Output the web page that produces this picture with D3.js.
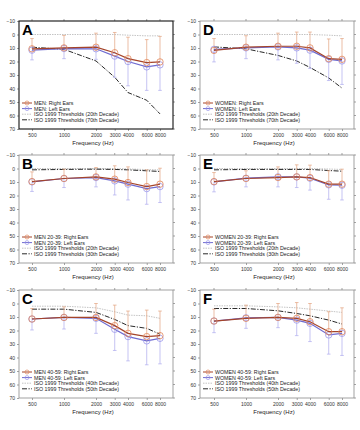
<!DOCTYPE html>
<html><head><meta charset="utf-8">
<script src="https://cdn.jsdelivr.net/npm/d3@7"></script>
<style>body{margin:0;background:#fff}svg{display:block}</style>
</head><body>
<svg id="c" width="360" height="430"></svg>
<script>
const freqs = [500, 1000, 2000, 3000, 4000, 6000, 8000];
const freqLabels = ["500", "1000", "2000", "3000", "4000", "6000", "8000"];
const yTicks = [-10, 0, 10, 20, 30, 40, 50, 60, 70];

// Panel A: MEN all
const aRight   = [10.6, 9.9, 9.4, 13.5, 17.9, 20.8, 20.3];
const aLeft    = [11.6, 10.4, 10.6, 16.0, 20.0, 24.0, 22.5];
const aRightHi = [3.0, 0.7, -1.0, -1.5, 2.0, 3.8, 1.4];
const aLeftLo  = [18.8, 17.9, 18.4, 31.7, 38.0, 41.4, 41.4];
const aIsoLow  = [0, 0, 0, 0, 0.5, 1, 1];
const aIsoHigh = [9.4, 11, 19.6, 31.7, 43, 48.7, 58.8];
// Panel B: MEN 20-39
const bRight   = [9.7, 7.4, 6.2, 7.9, 10.4, 13.4, 11.6];
const bLeft    = [9.9, 7.4, 6.7, 9.2, 11.6, 14.9, 13.4];
const bRightHi = [2.5, 0.5, -0.7, -2.0, -1.2, 1.0, -0.2];
const bLeftLo  = [17.0, 14.1, 13.6, 19.6, 23.3, 26.5, 25.2];
const bIsoLow  = [0, 0, 0, 0, 0.3, 0.8, 1];
const bIsoHigh = [1, 0.7, 0.5, 0.7, 1, 1.7, 2.2];
// Panel C: MEN 40-59
const cRight   = [11.5, 10.3, 10.3, 16.4, 22.1, 24.5, 23.8];
const cLeft    = [11.5, 10.3, 11.0, 19.1, 24.5, 27.7, 25.8];
const cRightHi = [3.7, 2.5, 0, 1.2, 5.6, 4.9, 5.6];
const cLeftLo  = [19.6, 18.9, 22.1, 34.8, 42.5, 45.4, 44.7];
const cIsoLow  = [2, 2, 3.2, 6.1, 8.6, 9.1, 11];
const cIsoHigh = [4.2, 4.2, 6.6, 11.8, 16.4, 18.4, 22.8];
// Panel D: WOMEN all
const dRight   = [11.8, 9.4, 8.7, 8.7, 9.9, 17.9, 18.4];
const dLeft    = [11.0, 9.9, 9.2, 9.9, 11.6, 18.4, 19.6];
const dRightHi = [3.0, 0.9, -1.0, -1.8, -1.8, 3.3, 3.0];
const dLeftLo  = [20.3, 17.9, 18.8, 21.3, 25.2, 34.1, 37.0];
const dIsoLow  = [0, 0, 0, 0, 0, 0.5, 1];
const dIsoHigh = [9.2, 10.6, 15.5, 19.6, 24.4, 32.2, 39.7];
// Panel E: WOMEN 20-39
const eRight   = [9.7, 7.4, 6.7, 6.2, 6.7, 11.6, 11.6];
const eLeft    = [9.9, 7.2, 6.2, 6.2, 7.2, 12.1, 12.4];
const eRightHi = [3.0, 1.7, -1.2, -2.7, -2.5, 1.7, 0.5];
const eLeftLo  = [17.3, 13.6, 13.6, 14.1, 16.0, 22.8, 23.3];
const eIsoLow  = [0, 0, 0, 0, 0, 0.4, 0.7];
const eIsoHigh = [1, 0.7, 0.7, 0.7, 0.7, 1.5, 2];
// Panel F: WOMEN 40-59
const fRight   = [13.0, 11.0, 10.3, 11.0, 13.5, 20.9, 20.9];
const fLeft    = [13.0, 10.6, 10.3, 12.3, 14.7, 23.3, 22.1];
const fRightHi = [4.2, 1.2, 0, -0.7, 0, 6.1, 3.2];
const fLeftLo  = [21.6, 18.4, 17.9, 23.8, 28.2, 37.5, 38.5];
const fIsoLow  = [1.7, 1.7, 2.5, 3.2, 4.2, 5.6, 6.6];
const fIsoHigh = [3.7, 3.7, 5.4, 7.4, 9.1, 12.3, 15.2];

const panelLetters = ["A", "B", "C", "D", "E", "F"];
const groupNames = ["MEN", "MEN 20-39", "MEN 40-59", "WOMEN", "WOMEN 20-39", "WOMEN 40-59"];
const lowDecades = ["20th", "20th", "40th", "20th", "20th", "40th"];
const highDecades = ["70th", "30th", "50th", "70th", "30th", "50th"];

const panelData = [
  [aRight, aLeft, aRightHi, aLeftLo, aIsoLow, aIsoHigh],
  [bRight, bLeft, bRightHi, bLeftLo, bIsoLow, bIsoHigh],
  [cRight, cLeft, cRightHi, cLeftLo, cIsoLow, cIsoHigh],
  [dRight, dLeft, dRightHi, dLeftLo, dIsoLow, dIsoHigh],
  [eRight, eLeft, eRightHi, eLeftLo, eIsoLow, eIsoHigh],
  [fRight, fLeft, fRightHi, fLeftLo, fIsoLow, fIsoHigh]
];

const svg = d3.select("#c");
const FONT = "'Liberation Sans', Arial, sans-serif";
const colX = [{f0: 19, f1: 173, r0: 32, r1: 160}, {f0: 200, f1: 354, r0: 214, r1: 342}];
const rowY = [21, 155, 290];
const PH = 108;

const C = {
  rLine: "#a4442a", rMark: "#e2875a", rErr: "#e3a27e",
  lLine: "#6f6bd0", lMark: "#9c98ea", lErr: "#aeaaee",
  isoLow: "#bdbdbd", isoHigh: "#111"
};

panelData.forEach((pd, i) => {
  const col = Math.floor(i / 3), row = i % 3;
  const cx = colX[col], top = rowY[row], bot = top + PH;
  const [right, left, rightHi, leftLo, isoLow, isoHigh] = pd;
  const x = d3.scaleLog().domain([500, 8000]).range([cx.r0, cx.r1]);
  const y = d3.scaleLinear().domain([-10, 70]).range([top, bot]);
  const g = svg.append("g");

  const yAxis = d3.axisLeft(y).tickValues(yTicks).tickSize(2).tickPadding(2).tickFormat(d3.format("d"));
  const ya = g.append("g").attr("transform", `translate(${cx.f0},0)`).call(yAxis);
  const xAxis = d3.axisBottom(x).tickValues(freqs).tickSize(2).tickPadding(2).tickFormat((d, k) => freqLabels[k]);
  const xa = g.append("g").attr("transform", `translate(0,${bot})`).call(xAxis);
  [ya, xa].forEach(a => {
    a.select(".domain").remove();
    a.selectAll("line").attr("stroke", "#666").attr("stroke-width", 0.6);
    a.selectAll("text").attr("font-family", FONT).attr("font-size", 5).attr("fill", "#333");
  });
  g.append("g").selectAll("line").data(freqs).join("line")
    .attr("x1", d => x(d)).attr("x2", d => x(d)).attr("y1", top).attr("y2", top - 2)
    .attr("stroke", "#666").attr("stroke-width", 0.6);
  g.append("g").selectAll("line").data(yTicks).join("line")
    .attr("x1", cx.f1).attr("x2", cx.f1 + 2).attr("y1", d => y(d)).attr("y2", d => y(d))
    .attr("stroke", "#666").attr("stroke-width", 0.6);

  g.append("text").attr("x", (cx.f0 + cx.f1) / 2 - 3).attr("y", bot + 16)
    .attr("text-anchor", "middle").attr("font-family", FONT).attr("font-size", 6)
    .attr("fill", "#222").text("Frequency (Hz)");

  const line = d3.line().x((d, k) => x(freqs[k])).y(d => y(d));

  g.append("path").datum(isoLow).attr("d", line).attr("fill", "none")
    .attr("stroke", C.isoLow).attr("stroke-width", 0.9).attr("stroke-dasharray", "1.5,1");
  g.append("path").datum(isoHigh).attr("d", line).attr("fill", "none")
    .attr("stroke", C.isoHigh).attr("stroke-width", 0.9).attr("stroke-dasharray", "5,1.5,1.2,1.5");

  function errBars(vals, lims, color) {
    const eg = g.append("g").attr("stroke", color).attr("stroke-width", 0.7);
    freqs.forEach((f, k) => {
      const xx = x(f);
      eg.append("line").attr("x1", xx).attr("x2", xx).attr("y1", y(vals[k])).attr("y2", y(lims[k]));
      eg.append("line").attr("x1", xx - 1.8).attr("x2", xx + 1.8).attr("y1", y(lims[k])).attr("y2", y(lims[k]));
    });
  }
  errBars(right, rightHi, C.rErr);
  errBars(left, leftLo, C.lErr);

  function series(vals, lc, mc) {
    g.append("path").datum(vals).attr("d", line).attr("fill", "none")
      .attr("stroke", lc).attr("stroke-width", 1.2);
    g.append("g").selectAll("circle").data(vals).join("circle")
      .attr("cx", (v, k) => x(freqs[k])).attr("cy", v => y(v)).attr("r", 3.2)
      .attr("fill", "none").attr("stroke", mc).attr("stroke-width", 0.8);
  }
  series(left, C.lLine, C.lMark);
  series(right, C.rLine, C.rMark);

  const lx = cx.f0 + 3, ly = top + 82;
  const items = [
    {t: `${groupNames[i]}: Right Ears`, c: C.rLine, m: C.rMark, dash: null},
    {t: `${groupNames[i]}: Left Ears`, c: C.lLine, m: C.lMark, dash: null},
    {t: `ISO 1999 Thresholds (${lowDecades[i]} Decade)`, c: C.isoLow, dash: "1.5,1"},
    {t: `ISO 1999 Thresholds (${highDecades[i]} Decade)`, c: C.isoHigh, dash: "5,1.5,1.2,1.5"}
  ];
  items.forEach((it, k) => {
    const yy = ly + k * 5.6;
    g.append("line").attr("x1", lx).attr("x2", lx + 10).attr("y1", yy).attr("y2", yy)
      .attr("stroke", it.c).attr("stroke-width", it.dash ? 0.9 : 1)
      .attr("stroke-dasharray", it.dash);
    if (it.m) g.append("circle").attr("cx", lx + 5).attr("cy", yy).attr("r", 2)
      .attr("fill", "none").attr("stroke", it.m).attr("stroke-width", 0.7);
    g.append("text").attr("x", lx + 12).attr("y", yy + 1.9).attr("font-family", FONT)
      .attr("font-size", 5.3).attr("fill", "#222").text(it.t);
  });

  g.append("rect").attr("x", cx.f0).attr("y", top).attr("width", cx.f1 - cx.f0).attr("height", PH)
    .attr("fill", "none").attr("stroke", i === 0 ? "#111" : "#8a8a8a").attr("stroke-width", i === 0 ? 1.1 : 0.8);

  g.append("text").attr("x", cx.f0 + 3).attr("y", top + 14).attr("font-family", FONT)
    .attr("font-weight", "bold").attr("font-size", 15).attr("fill", "#000").text(panelLetters[i]);
});
</script>
</body></html>
